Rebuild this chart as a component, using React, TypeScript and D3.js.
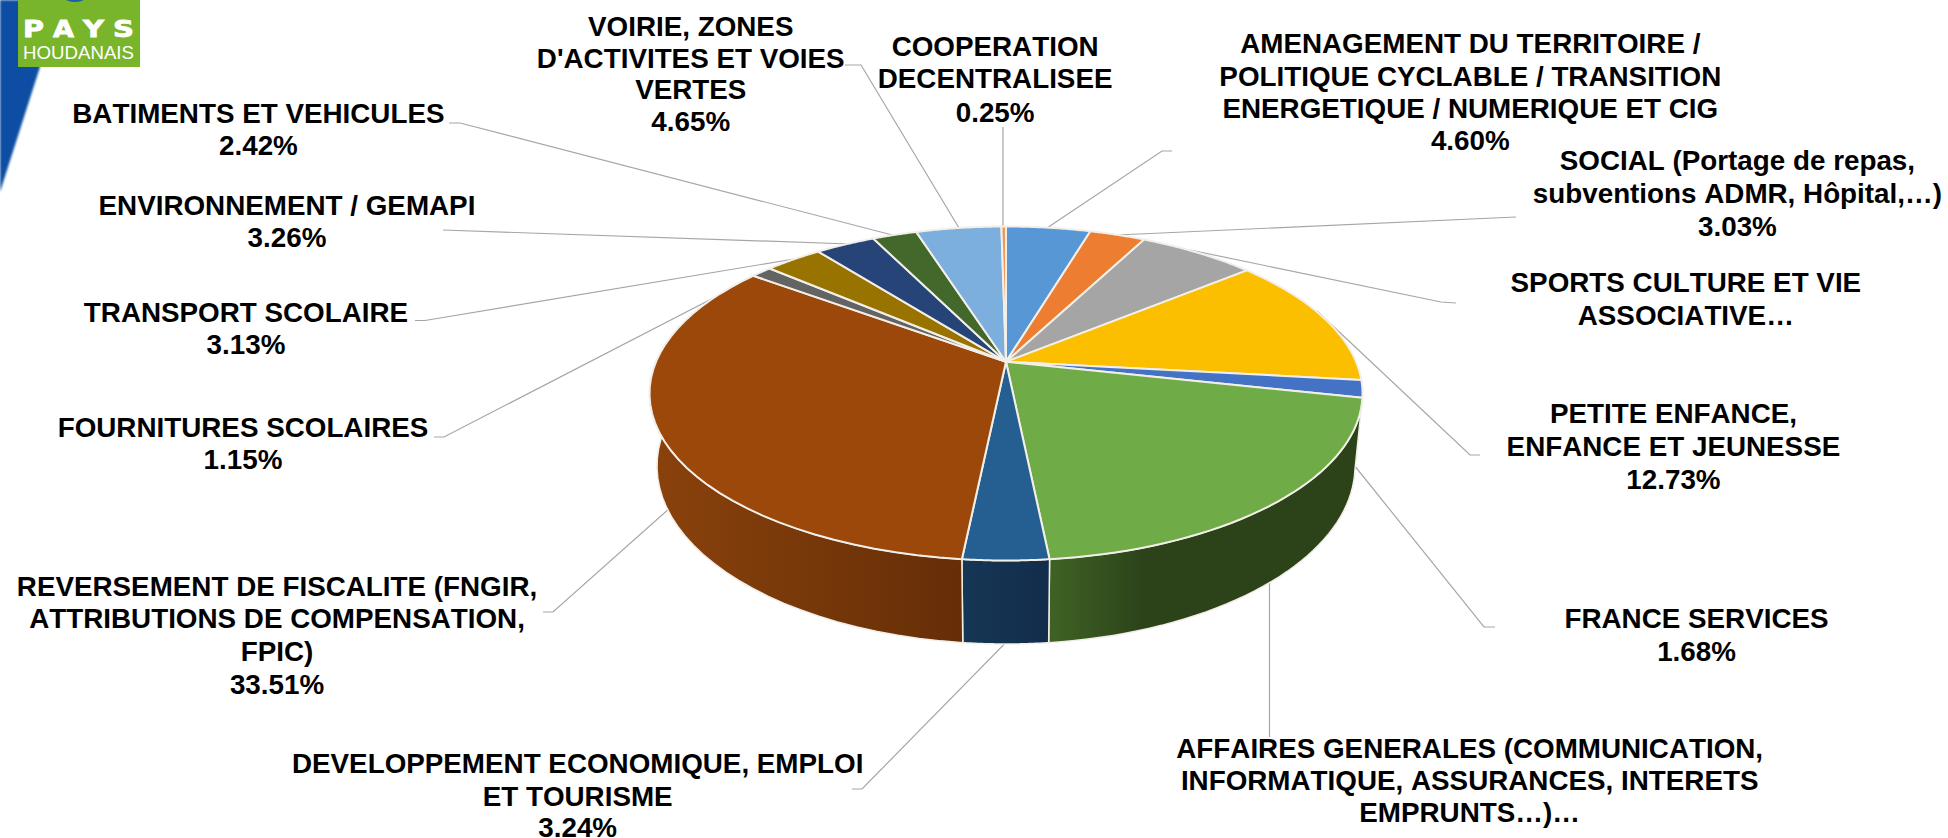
import React from "react";
import * as d3 from "d3";

const W = 1948, H = 838;
const k = 1948 / 1568; // label coordinates below were measured on the 1568px view

const categories = [
  "AMENAGEMENT", "SOCIAL", "SPORTS", "PETITE ENFANCE", "FRANCE SERVICES", "AFFAIRES GENERALES",
  "DEVELOPPEMENT ECONOMIQUE", "REVERSEMENT DE FISCALITE", "FOURNITURES SCOLAIRES", "TRANSPORT SCOLAIRE",
  "ENVIRONNEMENT", "BATIMENTS", "VOIRIE", "COOPERATION",
];
const values = [4.6, 3.03, 6.4, 12.73, 1.68, 19.95, 3.24, 33.51, 1.15, 3.13, 3.26, 2.42, 4.65, 0.25];
const colors = ["#5797d5", "#ed7d31", "#a5a5a5", "#fcbf00", "#4472c4", "#6fab46", "#255e91", "#9c480b", "#636363", "#997300", "#264478", "#43682b", "#7cafdd", "#f1975a"];
const sideFrom = ["#3d6da0", "#a85823", "#767676", "#b38a00", "#30508a", "#3f6324", "#163655", "#8a420c", "#464646", "#6d5200", "#1b3055", "#304a1f", "#587d9d", "#ab6b40"];
const sideTo = ["#3d6da0", "#a85823", "#767676", "#b38a00", "#30508a", "#2c431a", "#122d4b", "#652e07", "#464646", "#6d5200", "#1b3055", "#304a1f", "#587d9d", "#ab6b40"];
const sideStop = [1, 1, 1, 1, 1, 0.3, 1, 1, 1, 1, 1, 1, 1, 1];

const labels: { x: number; y: number[]; lines: string[] }[] = [
  { x: 556, y: [21, 47, 72, 98], lines: ["VOIRIE, ZONES", "D'ACTIVITES ET VOIES", "VERTES", "4.65%"] },
  { x: 801, y: [37, 63, 90], lines: ["COOPERATION", "DECENTRALISEE", "0.25%"] },
  { x: 1183.5, y: [35, 61, 87, 113], lines: ["AMENAGEMENT DU TERRITOIRE /", "POLITIQUE CYCLABLE / TRANSITION", "ENERGETIQUE / NUMERIQUE ET CIG", "4.60%"] },
  { x: 1398.5, y: [129, 155.5, 182], lines: ["SOCIAL (Portage de repas,", "subventions ADMR, Hôpital,…)", "3.03%"] },
  { x: 1357, y: [227, 253.5], lines: ["SPORTS CULTURE ET VIE", "ASSOCIATIVE…"] },
  { x: 1347, y: [333, 359, 386], lines: ["PETITE ENFANCE,", "ENFANCE ET JEUNESSE", "12.73%"] },
  { x: 1365.6, y: [498, 524], lines: ["FRANCE SERVICES", "1.68%"] },
  { x: 1183, y: [602, 628, 654], lines: ["AFFAIRES GENERALES (COMMUNICATION,", "INFORMATIQUE, ASSURANCES, INTERETS", "EMPRUNTS…)…"] },
  { x: 465, y: [614, 641, 666], lines: ["DEVELOPPEMENT ECONOMIQUE, EMPLOI", "ET TOURISME", "3.24%"] },
  { x: 223, y: [472, 498, 524, 551], lines: ["REVERSEMENT DE FISCALITE (FNGIR,", "ATTRIBUTIONS DE COMPENSATION,", "FPIC)", "33.51%"] },
  { x: 195.6, y: [344, 370], lines: ["FOURNITURES SCOLAIRES", "1.15%"] },
  { x: 198, y: [251, 277], lines: ["TRANSPORT SCOLAIRE", "3.13%"] },
  { x: 231, y: [165, 191], lines: ["ENVIRONNEMENT / GEMAPI", "3.26%"] },
  { x: 208, y: [91, 117], lines: ["BATIMENTS ET VEHICULES", "2.42%"] },
];

const leaders: [number, number][][] = [
  [[1172, 151], [1162, 151], [1044, 230]],
  [[1516, 217], [1117, 235]],
  [[1456, 303], [1441, 302], [1190, 250]],
  [[1480, 455], [1470, 455], [1317, 311]],
  [[1495, 627], [1484, 627], [1342, 450]],
  [[1269.5, 737], [1269.5, 560]],
  [[852, 789], [862, 789], [1020, 628]],
  [[543, 612], [553, 612], [680, 499]],
  [[434, 437], [444, 437], [756, 276]],
  [[415, 320.5], [425, 320.5], [800, 258]],
  [[443, 230], [850, 244]],
  [[449, 123], [460, 123], [900, 237]],
  [[845, 65], [861, 65], [962, 233]],
  [[1003, 127], [1003, 232]],
];

// Perspective pie: a unit circle projected so that its centre sits above the ellipse centre
const top = { cx: 1006, cy: 393.5, rx: 356.5, ry: 167 };
const bottom = { cx: 1006, cy: 466, rx: 349, ry: 178 };
const a = -0.19;
const s = Math.sqrt(1 - a * a);
function project(angle: number, e: typeof top, r = 1): [number, number] {
  const x = r * Math.sin(angle), y = -r * Math.cos(angle);
  const d = 1 + a * y;
  return [e.cx + (e.rx * x * s) / d, e.cy + (e.ry * (y + a)) / d];
}

const slices = d3.pie<number>().sort(null).startAngle(0).endAngle(2 * Math.PI)(values);
const line = d3.line();
const sample = (s0: number, s1: number, e: typeof top) =>
  d3.range(0, 41).map((i) => project(s0 + ((s1 - s0) * i) / 40, e));

const logoLetters = ["P", "A", "Y", "S"];
const logoX = d3.scaleLinear().domain([0, 3]).range([23, 113]);

export default function App() {
  return (
    <svg width={W} height={H} viewBox={`0 0 ${W} ${H}`} style={{ position: "absolute", left: 0, top: 0, background: "#fff" }} fontFamily="'Liberation Sans', Arial, sans-serif">
      <defs>
        {slices.map((_, i) => (
          <linearGradient key={i} id={`side${i}`} x1="0" x2="1" y1="0" y2="0">
            <stop offset="0" stopColor={sideFrom[i]} />
            <stop offset={sideStop[i]} stopColor={sideTo[i]} />
          </linearGradient>
        ))}
        <filter id="soft" x="-20%" y="-5%" width="140%" height="110%"><feGaussianBlur stdDeviation="1.2" /></filter>
      </defs>

      <path d="M0 0 L22 0 L40 67 L0 192 Z" fill="#0a4ea3" filter="url(#soft)" />
      <rect x={18} y={0} width={122} height={67} fill="#78b52b" />
      <ellipse cx={75} cy={-1} rx={9} ry={3} fill="#1c5fa8" />
      {logoLetters.map((c, i) => (
        <text key={c} x={logoX(i)} y={37} fontSize={23} fontWeight={700} fill="#fff" textLength={21} lengthAdjust="spacingAndGlyphs" stroke="#fff" strokeWidth={0.8} fontFamily="'DejaVu Sans', sans-serif">{c}</text>
      ))}
      <text x={23} y={59} fontSize={18} fill="#fff" textLength={111} lengthAdjust="spacingAndGlyphs">HOUDANAIS</text>

      <g fill="none" stroke="#a6a6a6" strokeWidth={1.2}>
        {leaders.map((pts, i) => (
          <path key={categories[i]} d={line(pts) ?? ""} />
        ))}
      </g>

      <g stroke="#f2ede6" strokeWidth={1.5} strokeLinejoin="round">
        {slices.map((d, i) => {
          const upper = sample(d.startAngle, d.endAngle, top);
          const lower = sample(d.startAngle, d.endAngle, bottom).reverse();
          return <path key={i} d={(line([...upper, ...lower]) ?? "") + "Z"} fill={`url(#side${i})`} stroke={i === 6 || i === 5 || i === 7 ? undefined : "none"} />;
        })}
      </g>
      <g stroke="#f2efe9" strokeWidth={2} strokeLinejoin="round">
        {slices.map((d, i) => {
          const apex = project(0, top, 0);
          const arc = sample(d.startAngle, d.endAngle, top);
          return <path key={i} d={(line([apex, ...arc]) ?? "") + "Z"} fill={colors[i]} />;
        })}
      </g>

      <g fontSize={27.8} fontWeight={700} fill="#000" textAnchor="middle" style={{ fontKerning: "none" }}>
        {labels.map((l) =>
          l.lines.map((t, j) => (
            <text key={t} x={l.x * k} y={l.y[j] * k} dy="0.35em">{t}</text>
          ))
        )}
      </g>
    </svg>
  );
}
